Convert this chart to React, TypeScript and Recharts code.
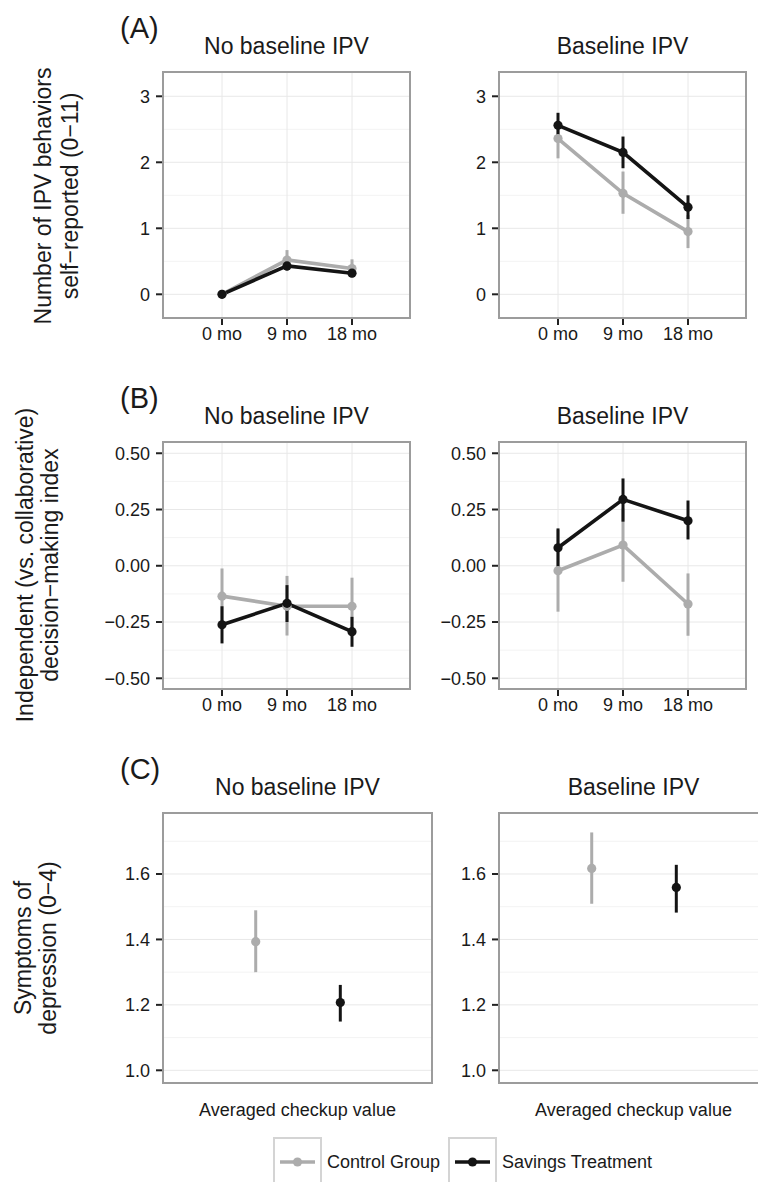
import React from 'react';
import { LineChart, Line, XAxis, YAxis, CartesianGrid, ErrorBar } from 'recharts';

const FONT = '"Liberation Sans", Arial, Helvetica, sans-serif';
const GRAY = '#acacac';
const BLACK = '#141414';
const TEXT = '#1a1a1a';

// ---- labels ----
const monthTicks = [0, 9, 18];
const monthLabels = ['0 mo', '9 mo', '18 mo'];
const groupNames = ['Control Group', 'Savings Treatment'];
const panelTitles = ['No baseline IPV', 'Baseline IPV'];
const rowLetters = ['(A)', '(B)', '(C)'];
const yTitleA = ['Number of IPV behaviors', 'self\u2212reported (0\u221211)'];
const yTitleB = ['Independent (vs. collaborative)', 'decision\u2212making index'];
const yTitleC = ['Symptoms of', 'depression (0\u22124)'];
const xTitleC = 'Averaged checkup value';

const yTicksA = [0, 1, 2, 3];
const yTickLabelsA = ['0', '1', '2', '3'];
const yMinorA = [0.5, 1.5, 2.5];
const yTicksB = [-0.5, -0.25, 0, 0.25, 0.5];
const yTickLabelsB = ['\u22120.50', '\u22120.25', '0.00', '0.25', '0.50'];
const yMinorB = [-0.375, -0.125, 0.125, 0.375];
const yTicksC = [1.0, 1.2, 1.4, 1.6];
const yTickLabelsC = ['1.0', '1.2', '1.4', '1.6'];
const yMinorC = [1.1, 1.3, 1.5, 1.7];
const groupPosC = [1, 2];

// ---- (A) IPV behaviors ----
const ipvNoCtrl = [0.0, 0.52, 0.39];
const ipvNoCtrlLo = [-0.03, 0.37, 0.26];
const ipvNoCtrlHi = [0.03, 0.67, 0.53];
const ipvNoSav = [0.0, 0.43, 0.32];
const ipvNoSavLo = [-0.02, 0.36, 0.26];
const ipvNoSavHi = [0.02, 0.5, 0.38];

const ipvYesCtrl = [2.36, 1.53, 0.95];
const ipvYesCtrlLo = [2.06, 1.22, 0.7];
const ipvYesCtrlHi = [2.62, 1.86, 1.2];
const ipvYesSav = [2.56, 2.15, 1.32];
const ipvYesSavLo = [2.37, 1.91, 1.14];
const ipvYesSavHi = [2.75, 2.39, 1.5];

// ---- (B) decision-making ----
const decNoCtrl = [-0.135, -0.18, -0.18];
const decNoCtrlLo = [-0.26, -0.31, -0.31];
const decNoCtrlHi = [-0.012, -0.045, -0.053];
const decNoSav = [-0.262, -0.167, -0.293];
const decNoSavLo = [-0.345, -0.25, -0.36];
const decNoSavHi = [-0.18, -0.086, -0.227];

const decYesCtrl = [-0.022, 0.092, -0.17];
const decYesCtrlLo = [-0.204, -0.071, -0.311];
const decYesCtrlHi = [0.16, 0.255, -0.034];
const decYesSav = [0.08, 0.295, 0.2];
const decYesSavLo = [-0.005, 0.196, 0.117];
const decYesSavHi = [0.166, 0.388, 0.29];

// ---- (C) depression ----
const depNoMean = [1.393, 1.207];
const depNoLo = [1.3, 1.149];
const depNoHi = [1.489, 1.261];
const depYesMean = [1.617, 1.559];
const depYesLo = [1.509, 1.482];
const depYesHi = [1.727, 1.628];

function buildRows(c: number[], cLo: number[], cHi: number[], s: number[], sLo: number[], sHi: number[]) {
  return monthTicks.map((m, i) => ({
    x: m,
    c: c[i],
    cErr: [c[i] - cLo[i], cHi[i] - c[i]],
    s: s[i],
    sErr: [s[i] - sLo[i], sHi[i] - s[i]],
  }));
}

function buildPoint(i: number, mean: number[], lo: number[], hi: number[]) {
  return [{ x: groupPosC[i], v: mean[i], err: [mean[i] - lo[i], hi[i] - mean[i]] }];
}

const YW = 70;
const MT = 10;
const MR = 10;
const XH = 30;
const MB = 10;

type PanelProps = {
  left: number; top: number; w: number; h: number;
  xDomain: number[]; xTicks: number[]; xLabels?: string[]; showX: boolean;
  yDomain: number[]; yTicks: number[]; yLabels: string[]; minor: number[];
  rows?: any[]; cData?: any[]; sData?: any[];
};

function Panel(p: PanelProps) {
  const tickStyle = { fill: TEXT, fontSize: 18, fontFamily: FONT };
  const dotStyle = (col: string) => ({ r: 4.6, fill: col, stroke: col, strokeWidth: 0 });
  return (
    <>
      <div style={{ position: 'absolute', left: p.left - YW, top: p.top - MT }}>
        <LineChart
          width={p.w + YW + MR}
          height={p.h + MT + XH + MB}
          data={p.rows}
          margin={{ top: MT, right: MR, bottom: MB, left: 0 }}
        >
          <CartesianGrid horizontalValues={p.minor} vertical={false} stroke="#f3f3f3" strokeWidth={1} />
          <CartesianGrid horizontalValues={p.yTicks} verticalValues={p.xTicks} stroke="#e8e8e8" strokeWidth={1} />
          <XAxis
            type="number"
            dataKey="x"
            domain={p.xDomain}
            ticks={p.xTicks}
            allowDataOverflow
            interval={0}
            height={XH}
            axisLine={false}
            tickSize={p.showX ? 7 : 0}
            tickMargin={2}
            tickLine={p.showX ? { stroke: '#222', strokeWidth: 2 } : false}
            tick={p.showX ? tickStyle : false}
            tickFormatter={(v: number) => (p.xLabels ? p.xLabels[p.xTicks.indexOf(v)] ?? '' : '')}
          />
          <YAxis
            type="number"
            domain={p.yDomain}
            ticks={p.yTicks}
            allowDataOverflow
            interval={0}
            width={YW}
            axisLine={false}
            tickSize={7}
            tickMargin={6}
            tickLine={{ stroke: '#222', strokeWidth: 2 }}
            tick={tickStyle}
            tickFormatter={(v: number) => {
              const i = p.yTicks.findIndex((t) => Math.abs(t - v) < 1e-9);
              return i >= 0 ? p.yLabels[i] : '';
            }}
          />
          {p.rows ? (
            <Line type="linear" dataKey="c" stroke={GRAY} strokeWidth={3.6} dot={dotStyle(GRAY)} activeDot={false} isAnimationActive={false}>
              <ErrorBar dataKey="cErr" width={0} strokeWidth={3} stroke={GRAY} direction="y" />
            </Line>
          ) : null}
          {p.rows ? (
            <Line type="linear" dataKey="s" stroke={BLACK} strokeWidth={3.6} dot={dotStyle(BLACK)} activeDot={false} isAnimationActive={false}>
              <ErrorBar dataKey="sErr" width={0} strokeWidth={3} stroke={BLACK} direction="y" />
            </Line>
          ) : null}
          {p.cData ? (
            <Line data={p.cData} type="linear" dataKey="v" stroke="none" dot={dotStyle(GRAY)} activeDot={false} isAnimationActive={false}>
              <ErrorBar dataKey="err" width={0} strokeWidth={3} stroke={GRAY} direction="y" />
            </Line>
          ) : null}
          {p.sData ? (
            <Line data={p.sData} type="linear" dataKey="v" stroke="none" dot={dotStyle(BLACK)} activeDot={false} isAnimationActive={false}>
              <ErrorBar dataKey="err" width={0} strokeWidth={3} stroke={BLACK} direction="y" />
            </Line>
          ) : null}
        </LineChart>
      </div>
      <div
        style={{
          position: 'absolute',
          left: p.left - 1,
          top: p.top - 1,
          width: p.w + 2,
          height: p.h + 2,
          border: '2px solid #9c9c9c',
          boxSizing: 'border-box',
          pointerEvents: 'none',
        }}
      />
    </>
  );
}

const xDomMonths = [-8.17, 26.03];
const xDomC = [-0.096, 3.084];
const yDomA = [-0.359, 3.368];
const yDomB = [-0.5476, 0.55];
const yDomC = [0.9612, 1.7864];

export default function App() {
  const boxesAB = [
    { left: 163, w: 247 },
    { left: 499, w: 247 },
  ];
  const boxesC = [
    { left: 163, w: 269 },
    { left: 499, w: 269 },
  ];
  const rowA = { top: 72, h: 246 };
  const rowB = { top: 442, h: 247 };
  const rowC = { top: 813, h: 270 };

  const yTitles = [
    { lines: yTitleA, xs: [51, 78], cy: 196 },
    { lines: yTitleB, xs: [33, 58], cy: 565 },
    { lines: yTitleC, xs: [31, 56], cy: 948 },
  ];
  const rowTops = [rowA.top, rowB.top, rowC.top];

  return (
    <div
      style={{
        position: 'absolute',
        left: 0,
        top: 0,
        width: 758,
        height: 1182,
        overflow: 'hidden',
        background: '#fff',
        fontFamily: FONT,
      }}
    >
      <Panel {...boxesAB[0]} {...rowA} xDomain={xDomMonths} xTicks={monthTicks} xLabels={monthLabels} showX
        yDomain={yDomA} yTicks={yTicksA} yLabels={yTickLabelsA} minor={yMinorA}
        rows={buildRows(ipvNoCtrl, ipvNoCtrlLo, ipvNoCtrlHi, ipvNoSav, ipvNoSavLo, ipvNoSavHi)} />
      <Panel {...boxesAB[1]} {...rowA} xDomain={xDomMonths} xTicks={monthTicks} xLabels={monthLabels} showX
        yDomain={yDomA} yTicks={yTicksA} yLabels={yTickLabelsA} minor={yMinorA}
        rows={buildRows(ipvYesCtrl, ipvYesCtrlLo, ipvYesCtrlHi, ipvYesSav, ipvYesSavLo, ipvYesSavHi)} />
      <Panel {...boxesAB[0]} {...rowB} xDomain={xDomMonths} xTicks={monthTicks} xLabels={monthLabels} showX
        yDomain={yDomB} yTicks={yTicksB} yLabels={yTickLabelsB} minor={yMinorB}
        rows={buildRows(decNoCtrl, decNoCtrlLo, decNoCtrlHi, decNoSav, decNoSavLo, decNoSavHi)} />
      <Panel {...boxesAB[1]} {...rowB} xDomain={xDomMonths} xTicks={monthTicks} xLabels={monthLabels} showX
        yDomain={yDomB} yTicks={yTicksB} yLabels={yTickLabelsB} minor={yMinorB}
        rows={buildRows(decYesCtrl, decYesCtrlLo, decYesCtrlHi, decYesSav, decYesSavLo, decYesSavHi)} />
      <Panel {...boxesC[0]} {...rowC} xDomain={xDomC} xTicks={groupPosC} showX={false}
        yDomain={yDomC} yTicks={yTicksC} yLabels={yTickLabelsC} minor={yMinorC}
        cData={buildPoint(0, depNoMean, depNoLo, depNoHi)} sData={buildPoint(1, depNoMean, depNoLo, depNoHi)} />
      <Panel {...boxesC[1]} {...rowC} xDomain={xDomC} xTicks={groupPosC} showX={false}
        yDomain={yDomC} yTicks={yTicksC} yLabels={yTickLabelsC} minor={yMinorC}
        cData={buildPoint(0, depYesMean, depYesLo, depYesHi)} sData={buildPoint(1, depYesMean, depYesLo, depYesHi)} />

      <svg
        width={758}
        height={1182}
        style={{ position: 'absolute', left: 0, top: 0, pointerEvents: 'none' }}
        fontFamily={FONT}
      >
        {rowLetters.map((t, i) => (
          <text key={t} x={120} y={rowTops[i] - 34} fontSize={29} fill={TEXT}>
            {t}
          </text>
        ))}
        {[rowA, rowB].map((r, ri) =>
          boxesAB.map((b, bi) => (
            <text key={`t${ri}${bi}`} x={b.left + b.w / 2} y={r.top - 18} fontSize={23} fill={TEXT} textAnchor="middle">
              {panelTitles[bi]}
            </text>
          ))
        )}
        {boxesC.map((b, bi) => (
          <text key={`tc${bi}`} x={b.left + b.w / 2} y={rowC.top - 18} fontSize={23} fill={TEXT} textAnchor="middle">
            {panelTitles[bi]}
          </text>
        ))}
        {boxesC.map((b, bi) => (
          <text key={`xc${bi}`} x={b.left + b.w / 2} y={1116} fontSize={18} fill={TEXT} textAnchor="middle">
            {xTitleC}
          </text>
        ))}
        {yTitles.map((yt, i) =>
          yt.lines.map((line, li) => (
            <text
              key={`y${i}${li}`}
              transform={`translate(${yt.xs[li]},${yt.cy}) rotate(-90)`}
              fontSize={23}
              fill={TEXT}
              textAnchor="middle"
            >
              {line}
            </text>
          ))
        )}
        {/* legend */}
        {groupNames.map((g, i) => {
          const kx = i === 0 ? 274 : 449;
          const col = i === 0 ? GRAY : BLACK;
          return (
            <g key={g}>
              <rect x={kx} y={1138} width={47} height={60} fill="#fff" stroke="#d4d4d4" strokeWidth={2} />
              <line x1={kx + 6} x2={kx + 41} y1={1162} y2={1162} stroke={col} strokeWidth={3.6} />
              <circle cx={kx + 23.5} cy={1162} r={4.6} fill={col} />
              <text x={kx + 53} y={1168} fontSize={18} fill={TEXT}>
                {g}
              </text>
            </g>
          );
        })}
      </svg>
    </div>
  );
}
